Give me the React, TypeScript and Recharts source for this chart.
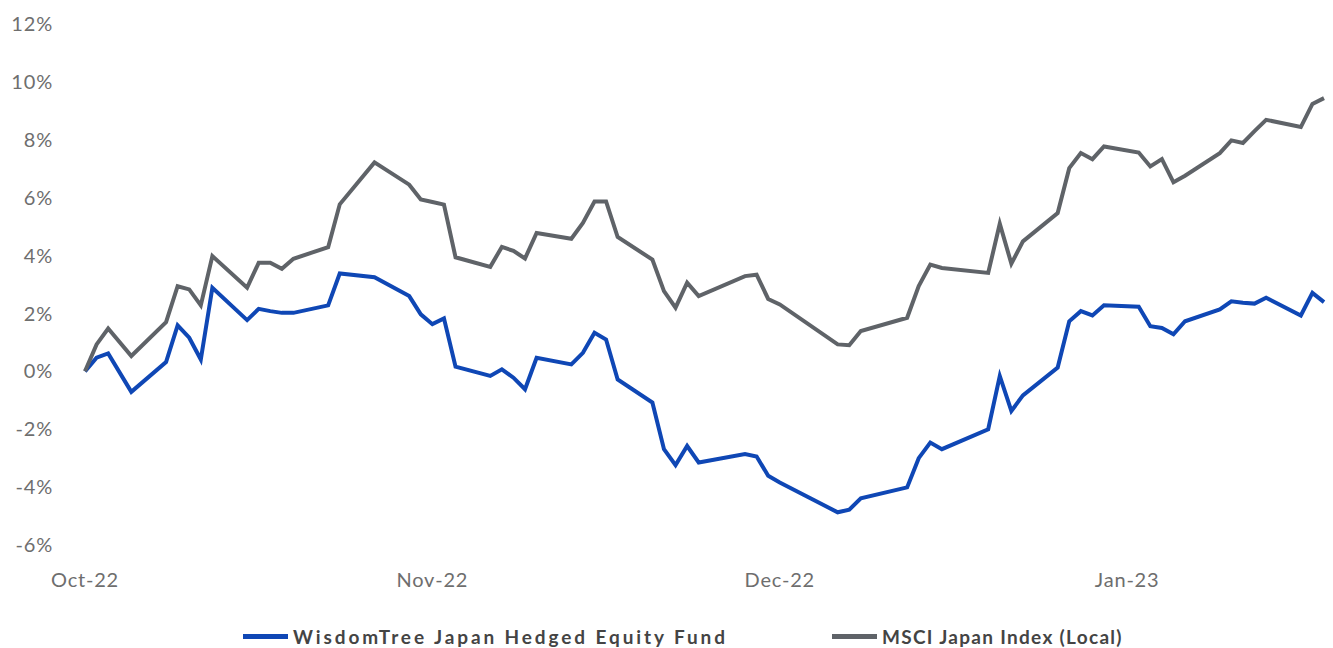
import React from "react"
import { LineChart, Line, XAxis, YAxis, Legend } from "recharts"

// trading days shown in the chart
const dates = [
  "2022-10-03", "2022-10-04", "2022-10-05", "2022-10-07", "2022-10-10", "2022-10-11",
  "2022-10-12", "2022-10-13", "2022-10-14", "2022-10-17", "2022-10-18", "2022-10-19",
  "2022-10-20", "2022-10-21", "2022-10-24", "2022-10-25", "2022-10-28", "2022-10-31",
  "2022-11-01", "2022-11-02", "2022-11-03", "2022-11-04", "2022-11-07", "2022-11-08",
  "2022-11-09", "2022-11-10", "2022-11-11", "2022-11-14", "2022-11-15", "2022-11-16",
  "2022-11-17", "2022-11-18", "2022-11-21", "2022-11-22", "2022-11-23", "2022-11-24",
  "2022-11-25", "2022-11-29", "2022-11-30", "2022-12-01", "2022-12-02", "2022-12-07",
  "2022-12-08", "2022-12-09", "2022-12-13", "2022-12-14", "2022-12-15", "2022-12-16",
  "2022-12-20", "2022-12-21", "2022-12-22", "2022-12-23", "2022-12-26", "2022-12-27",
  "2022-12-28", "2022-12-29", "2022-12-30", "2023-01-02", "2023-01-03", "2023-01-04",
  "2023-01-05", "2023-01-06", "2023-01-09", "2023-01-10", "2023-01-11", "2023-01-12",
  "2023-01-13", "2023-01-16", "2023-01-17", "2023-01-18",
]

// cumulative return, %
const wisdomTree = [
  0, 0.47, 0.62, -0.71, 0.32, 1.59,
  1.16, 0.41, 2.89, 1.77, 2.16, 2.08,
  2.02, 2.02, 2.28, 3.38, 3.25, 2.6,
  1.97, 1.63, 1.83, 0.16, -0.16, 0.07,
  -0.22, -0.62, 0.47, 0.24, 0.64, 1.33,
  1.1, -0.28, -1.08, -2.69, -3.24, -2.58,
  -3.15, -2.86, -2.94, -3.61, -3.84, -4.87,
  -4.78, -4.39, -4.01, -3.0, -2.46, -2.69,
  -2.0, -0.16, -1.37, -0.83, 0.13, 1.73,
  2.08, 1.93, 2.28, 2.23, 1.56, 1.5,
  1.28, 1.73, 2.14, 2.42, 2.37, 2.34,
  2.54, 1.93, 2.71, 2.39,
]

const msciJapan = [
  0, 0.93, 1.48, 0.53, 1.7, 2.94,
  2.83, 2.28, 3.98, 2.89, 3.75, 3.75,
  3.54, 3.89, 4.29, 5.77, 7.22, 6.45,
  5.94, 5.85, 5.76, 3.94, 3.61, 4.3,
  4.16, 3.9, 4.78, 4.58, 5.13, 5.87,
  5.87, 4.64, 3.86, 2.77, 2.2, 3.06,
  2.6, 3.29, 3.34, 2.5, 2.31, 0.93,
  0.9, 1.39, 1.85, 2.95, 3.69, 3.57,
  3.4, 5.1, 3.72, 4.49, 5.47, 7.02,
  7.54, 7.33, 7.77, 7.56, 7.08, 7.33,
  6.53, 6.76, 7.54, 7.98, 7.89, 8.3,
  8.69, 8.44, 9.24, 9.44,
]

const tickDates = ["2022-10-03", "2022-11-02", "2022-12-02", "2023-01-01"]
const yTicks = [-6, -4, -2, 0, 2, 4, 6, 8, 10, 12]
const months = ["Jan", "Feb", "Mar", "Apr", "May", "Jun", "Jul", "Aug", "Sep", "Oct", "Nov", "Dec"]

const BLUE = "#0f47b5"
const GREY = "#5f6368"

const data = dates.map((d, i) => ({
  t: Date.parse(d),
  wt: wisdomTree[i],
  msci: msciJapan[i],
}))

const fmtMonth = (t: number) => {
  const d = new Date(t)
  return `${months[d.getUTCMonth()]}-${String(d.getUTCFullYear()).slice(2)}`
}

const legendItems = [
  { label: "WisdomTree Japan Hedged Equity Fund", color: BLUE, left: 243, spacing: 2.9 },
  { label: "MSCI Japan Index (Local)", color: GREY, left: 832, spacing: 1.3 },
]

function ChartLegend() {
  return (
    <div
      style={{
        position: "relative",
        width: 1333,
        height: 24,
        fontFamily: "Lato, sans-serif",
        fontWeight: 700,
        fontSize: 19,
        color: "#444",
      }}
    >
      {legendItems.map((it) => (
        <div
          key={it.label}
          style={{ position: "absolute", left: it.left, top: 0, height: 24, display: "flex", alignItems: "center", whiteSpace: "nowrap" }}
        >
          <span style={{ width: 45, height: 5, background: it.color, marginRight: 5, display: "inline-block" }} />
          <span style={{ letterSpacing: it.spacing }}>{it.label}</span>
        </div>
      ))}
    </div>
  )
}

export default function App() {
  const tickStyle = { fill: "#6e6e6e", fontSize: 20, fontFamily: "Lato, sans-serif", letterSpacing: 0.8 }
  return (
    <div style={{ position: "absolute", left: 0, top: 0, width: 1333, height: 648, background: "#fff" }}>
      <LineChart width={1333} height={648} data={data} margin={{ top: 24, right: 9, bottom: 0, left: 0 }}>
        <XAxis
          dataKey="t"
          type="number"
          scale="time"
          domain={[Date.parse("2022-10-03"), Date.parse("2023-01-18")]}
          ticks={tickDates.map((d) => Date.parse(d))}
          tickFormatter={fmtMonth}
          axisLine={false}
          tickLine={false}
          tickSize={0}
          tickMargin={28}
          height={79}
          tick={tickStyle}
        />
        <YAxis
          domain={[-6, 12]}
          ticks={yTicks}
          tickFormatter={(v: number) => `${v}%`}
          axisLine={false}
          tickLine={false}
          tickSize={0}
          tickMargin={32}
          width={85}
          tick={tickStyle}
        />
        <Legend verticalAlign="bottom" wrapperStyle={{ left: 0, width: 1333 }} content={() => <ChartLegend />} />
        <Line
          dataKey="wt"
          name="WisdomTree Japan Hedged Equity Fund"
          stroke={BLUE}
          strokeWidth={4}
          dot={false}
          isAnimationActive={false}
        />
        <Line
          dataKey="msci"
          name="MSCI Japan Index (Local)"
          stroke={GREY}
          strokeWidth={4}
          dot={false}
          isAnimationActive={false}
        />
      </LineChart>
    </div>
  )
}
